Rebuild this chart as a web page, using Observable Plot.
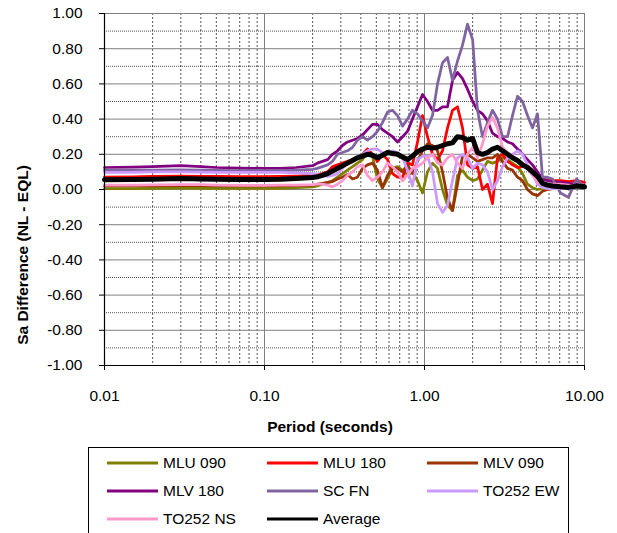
<!DOCTYPE html>
<html>
<head>
<meta charset="utf-8">
<script src="https://cdn.jsdelivr.net/npm/d3@7"></script>
<script src="https://cdn.jsdelivr.net/npm/@observablehq/plot@0.6"></script>
<style>
  html, body { margin: 0; padding: 0; background: #fff; overflow: hidden; }
  #wrap { position: relative; width: 617px; height: 533px; overflow: hidden; font-family: "Liberation Sans", Arial, sans-serif; }
  #legend { position: absolute; left: 88px; top: 447px; width: 481px; height: 110px; border: 1.5px solid #000; box-sizing: border-box; }
  .item { position: absolute; height: 20px; font-size: 15.5px; line-height: 20px; color: #000; white-space: nowrap; }
  .item svg { position: absolute; left: 0; top: 8px; }
  .item span { position: absolute; left: 56px; top: 0; }
</style>
</head>
<body>
<div id="wrap"><div id="chart"></div><div id="legend"></div></div>
<script>
const periods = [0.01, 0.015, 0.02, 0.03, 0.04, 0.05, 0.07, 0.1, 0.125, 0.158,
  0.2, 0.214, 0.23, 0.248, 0.266, 0.286, 0.307, 0.33, 0.355, 0.381,
  0.41, 0.44, 0.473, 0.508, 0.546, 0.587, 0.631, 0.678, 0.729, 0.783,
  0.841, 0.904, 0.972, 1.044, 1.122, 1.206, 1.296, 1.393, 1.496, 1.608,
  1.728, 1.857, 2.0, 2.144, 2.304, 2.476, 2.661, 2.859, 3.073, 3.302,
  3.548, 3.813, 4.097, 4.403, 4.732, 5.085, 5.464, 5.872, 6.31,
  7.08, 7.94, 8.91, 10];

const mlu090 = [0.005, 0.005, 0.006, 0.008, 0.007, 0.006, 0.006, 0.006, 0.007, 0.01,
  0.015, 0.02, 0.03, 0.04, 0.05, 0.07, 0.09, 0.11, 0.13, 0.15,
  0.17, 0.22, 0.19, 0.06, 0.01, 0.06, 0.12, 0.13, 0.11, 0.08,
  0.1, 0.05, -0.02, 0.1, 0.15, 0.12, 0.0, -0.09, -0.12, 0.08,
  0.11, 0.07, 0.05, 0.06, 0.11, 0.16, 0.15, 0.16, 0.18, 0.17,
  0.15, 0.13, 0.09, 0.03, 0.01, 0.0, 0.005, 0.02, 0.025,
  0.03, 0.03, 0.02, 0.02];

const mlu180 = [0.07, 0.072, 0.074, 0.076, 0.075, 0.074, 0.073, 0.073, 0.074, 0.076,
  0.08, 0.085, 0.09, 0.1, 0.13, 0.14, 0.15, 0.16, 0.17, 0.18,
  0.2, 0.23, 0.2, 0.16, 0.2, 0.17, 0.09, 0.07, 0.07, 0.15,
  0.14, 0.27, 0.42, 0.3, 0.2, 0.17, 0.22, 0.35, 0.45, 0.47,
  0.35, 0.14, 0.12, 0.13, 0.0, 0.03, -0.08, 0.18, 0.2, 0.16,
  0.14, 0.125, 0.13, 0.13, 0.11, 0.08, 0.06, 0.055, 0.05,
  0.05, 0.045, 0.05, 0.04];

const mlv090 = [0.02, 0.02, 0.021, 0.024, 0.022, 0.02, 0.02, 0.02, 0.02, 0.022,
  0.025, 0.03, 0.035, 0.04, 0.045, 0.06, 0.07, 0.085, 0.06, 0.07,
  0.12, 0.14, 0.15, 0.11, 0.01, 0.08, 0.12, 0.12, 0.1, 0.14,
  0.09, 0.16, 0.22, 0.26, 0.25, 0.22, 0.1, -0.05, -0.12, 0.03,
  0.19, 0.2, 0.18, 0.16, 0.17, 0.18, 0.18, 0.2, 0.16, 0.12,
  0.11, 0.07, 0.05, 0.0, -0.025, -0.035, -0.01, 0.0, 0.005,
  0.01, 0.015, 0.02, 0.02];

const mlv180 = [0.125, 0.127, 0.13, 0.135, 0.13, 0.125, 0.122, 0.12, 0.12, 0.125,
  0.135, 0.15, 0.16, 0.17, 0.2, 0.22, 0.25, 0.27, 0.28, 0.29,
  0.31, 0.34, 0.37, 0.37, 0.34, 0.32, 0.3, 0.27, 0.3, 0.33,
  0.4, 0.47, 0.54, 0.5, 0.45, 0.45, 0.47, 0.47, 0.62, 0.665,
  0.63, 0.57, 0.5, 0.45, 0.43, 0.39, 0.32, 0.3, 0.29, 0.27,
  0.26, 0.23, 0.2, 0.17, 0.14, 0.1, 0.06, 0.05, 0.045,
  0.04, 0.035, 0.03, 0.02];

const scfn = [0.11, 0.11, 0.11, 0.112, 0.11, 0.108, 0.107, 0.107, 0.108, 0.11,
  0.115, 0.12, 0.13, 0.14, 0.16, 0.2, 0.21, 0.22, 0.24, 0.28,
  0.3, 0.28, 0.3, 0.33, 0.38, 0.44, 0.45, 0.42, 0.36, 0.4,
  0.45, 0.43, 0.39, 0.35, 0.42, 0.6, 0.72, 0.75, 0.62, 0.73,
  0.82, 0.94, 0.85, 0.45, 0.3, 0.38, 0.45, 0.4, 0.3, 0.3,
  0.42, 0.53, 0.5, 0.42, 0.35, 0.43, 0.07, 0.07, 0.06,
  -0.02, -0.045, 0.06, 0.015];

const to252ew = [0.098, 0.098, 0.1, 0.1, 0.099, 0.098, 0.097, 0.097, 0.097, 0.095,
  0.09, 0.085, 0.08, 0.075, 0.08, 0.09, 0.12, 0.15, 0.17, 0.18,
  0.2, 0.22, 0.23, 0.23, 0.21, 0.2, 0.22, 0.21, 0.18, 0.11,
  0.02, 0.17, 0.19, 0.19, 0.1, -0.08, -0.13, -0.09, 0.05, 0.18,
  0.2, 0.18, 0.12, 0.15, 0.14, 0.1, 0.0, 0.05, 0.13, 0.18,
  0.2, 0.22, 0.2, 0.14, 0.09, 0.03, 0.01, 0.005, 0.005,
  0.005, 0.005, 0.015, 0.015];

const to252ns = [0.025, 0.025, 0.026, 0.028, 0.027, 0.025, 0.024, 0.024, 0.025, 0.025,
  0.028, 0.03, 0.03, 0.025, 0.015, 0.03, 0.05, 0.08, 0.1, 0.13,
  0.14, 0.08, 0.05, 0.07, 0.1, 0.15, 0.13, 0.1, 0.05, 0.08,
  0.12, 0.13, 0.15, 0.18, 0.2, 0.15, 0.14, 0.18, 0.2, 0.15,
  0.12, 0.2, 0.24, 0.18, 0.26, 0.36, 0.41, 0.35, 0.24, 0.21,
  0.19, 0.16, 0.15, 0.12, 0.08, 0.045, 0.035, 0.03, 0.03,
  0.03, 0.025, 0.02, 0.015];

const average = [0.055, 0.057, 0.058, 0.062, 0.06, 0.058, 0.057, 0.057, 0.058, 0.062,
  0.068, 0.072, 0.08, 0.09, 0.105, 0.12, 0.135, 0.15, 0.165, 0.18,
  0.19, 0.2, 0.195, 0.18, 0.195, 0.21, 0.205, 0.2, 0.185, 0.17,
  0.19, 0.215, 0.23, 0.24, 0.235, 0.24, 0.25, 0.26, 0.265, 0.3,
  0.295, 0.28, 0.29, 0.21, 0.2, 0.21, 0.23, 0.24, 0.22, 0.2,
  0.18, 0.165, 0.14, 0.125, 0.1, 0.075, 0.035, 0.025, 0.02,
  0.015, 0.012, 0.02, 0.015];

const seriesNames = ["MLU 090", "MLU 180", "MLV 090", "MLV 180", "SC FN", "TO252 EW", "TO252 NS", "Average"];
const seriesColors = ["#808000", "#FF0000", "#993300", "#800080", "#8064A2", "#CC99FF", "#FF99CC", "#000000"];
const seriesValues = [mlu090, mlu180, mlv090, mlv180, scfn, to252ew, to252ns, average];

const xTicks = [0.01, 0.1, 1, 10];
const xMajorGrid = [0.1, 1, 10];
const xMinorGrid = [0.02, 0.03, 0.04, 0.05, 0.06, 0.07, 0.08, 0.09,
  0.2, 0.3, 0.4, 0.5, 0.6, 0.7, 0.8, 0.9, 2, 3, 4, 5, 6, 7, 8, 9];
const yTicks = [-1, -0.8, -0.6, -0.4, -0.2, 0, 0.2, 0.4, 0.6, 0.8, 1];
const yMinorGrid = [-0.9, -0.7, -0.5, -0.3, -0.1, 0.1, 0.3, 0.5, 0.7, 0.9];

const xTitle = "Period (seconds)";
const yTitle = "Sa Difference (NL - EQL)";

const rows = seriesNames.flatMap((name, i) =>
  seriesValues[i].map((v, j) => ({name, period: periods[j], value: v})));
const thin = rows.filter(d => d.name !== "Average");
const avg = rows.filter(d => d.name === "Average");

const chart = Plot.plot({
  width: 617,
  height: 445,
  marginLeft: 104,
  marginRight: 33,
  marginTop: 13,
  marginBottom: 80,
  style: {fontFamily: "'Liberation Sans', Arial, sans-serif", fontSize: "15.5px", background: "#fff", color: "#000", overflow: "visible"},
  x: {type: "log", domain: [0.01, 10]},
  y: {domain: [-1, 1]},
  color: {domain: seriesNames, range: seriesColors},
  marks: [
    Plot.ruleY(yMinorGrid, {stroke: "#000", strokeWidth: 0.8, strokeDasharray: "1,1", strokeOpacity: 0.85}),
    Plot.ruleX(xMinorGrid, {stroke: "#000", strokeWidth: 0.8, strokeDasharray: "2,2", strokeOpacity: 0.85}),
    Plot.ruleY(yTicks, {stroke: "#808080", strokeWidth: 1}),
    Plot.ruleX(xMajorGrid, {stroke: "#808080", strokeWidth: 1}),
    Plot.line(thin, {x: "period", y: "value", z: "name", stroke: "name", strokeWidth: 2.75, strokeLinejoin: "round"}),
    Plot.line(avg, {x: "period", y: "value", stroke: "name", strokeWidth: 5, strokeLinejoin: "round"}),
    Plot.ruleX([0.01], {stroke: "#000", strokeWidth: 1.2}),
    Plot.ruleY([-1], {stroke: "#000", strokeWidth: 1.2}),
    Plot.axisX({ticks: xTicks, tickFormat: d => d.toFixed(2), tickSize: 5, tickPadding: 19, label: null}),
    Plot.axisY({ticks: yTicks, tickFormat: d => d.toFixed(2), tickSize: 5, tickPadding: 17, label: null})
  ]
});

document.getElementById("chart").appendChild(chart);

const svg = d3.select(chart);
svg.append("text")
  .attr("x", 330).attr("y", 426)
  .attr("text-anchor", "middle").attr("dominant-baseline", "central")
  .attr("font-weight", "bold").attr("font-size", 15.5)
  .attr("font-family", "'Liberation Sans', Arial, sans-serif")
  .text(xTitle);
svg.append("text")
  .attr("transform", "translate(22,255) rotate(-90)")
  .attr("text-anchor", "middle").attr("dominant-baseline", "central")
  .attr("font-weight", "bold").attr("font-size", 15.5)
  .attr("font-family", "'Liberation Sans', Arial, sans-serif")
  .text(yTitle);

// legend
const legend = document.getElementById("legend");
const colX = [18, 178, 338];
const rowY = [5, 33, 61];
seriesNames.forEach((name, i) => {
  const div = document.createElement("div");
  div.className = "item";
  div.style.left = colX[i % 3] + "px";
  div.style.top = rowY[Math.floor(i / 3)] + "px";
  div.innerHTML = `<svg width="52" height="4"><line x1="0" y1="2" x2="51" y2="2" stroke="${seriesColors[i]}" stroke-width="3"/></svg><span></span>`;
  div.querySelector("span").textContent = name;
  legend.appendChild(div);
});
</script>
</body>
</html>
